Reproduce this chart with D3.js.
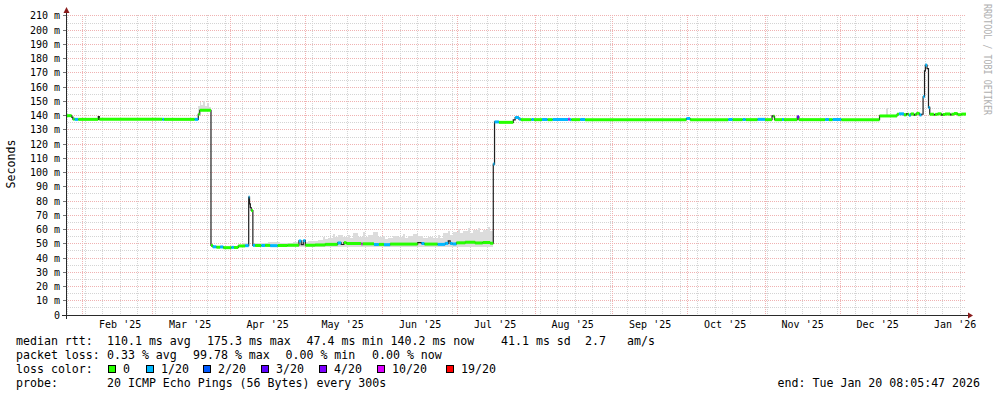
<!DOCTYPE html>
<html>
<head>
<meta charset="utf-8">
<script src="https://cdn.jsdelivr.net/npm/d3@7"></script>
<style>
body { margin: 0; background: #fff; }
svg { display: block; font-family: "DejaVu Sans Mono", monospace; }
</style>
</head>
<body>
<svg width="997" height="397"></svg>
<script>
// loss classes
var lossColors = ["#26ff00", "#00b8ff", "#0059ff", "#5e00ff", "#7e00ff", "#dd00ff", "#ff0000"];
var lossLabels = ["0", "1/20", "2/20", "3/20", "4/20", "10/20", "19/20"];

var monthLabels = ["Feb '25", "Mar '25", "Apr '25", "May '25", "Jun '25", "Jul '25",
                   "Aug '25", "Sep '25", "Oct '25", "Nov '25", "Dec '25", "Jan '26"];

// median rtt (ms) : [time, value, loss class]  (-1 = no loss colour, only the dark line)
var median = [
  ["2025-01-25 08:05", 140.0, 0],
  ["2025-01-27 14:00", 139.0, -1],
  ["2025-01-28 02:00", 137.6, 0],
  ["2025-01-28 20:00", 137.4, 1],
  ["2025-01-30 06:00", 137.4, 0],
  ["2025-02-07 06:00", 139.3, -1],
  ["2025-02-07 16:00", 137.4, 0],
  ["2025-03-04 22:00", 137.4, 1],
  ["2025-03-05 14:00", 137.4, 0],
  ["2025-03-17 20:00", 137.4, 1],
  ["2025-03-19 06:00", 141.0, 0],
  ["2025-03-19 20:00", 143.8, 0],
  ["2025-03-24 08:00", 48.8, 0],
  ["2025-03-25 02:00", 47.9, 1],
  ["2025-03-26 12:00", 47.6, 0],
  ["2025-03-28 00:00", 47.8, 1],
  ["2025-03-29 06:00", 47.3, 0],
  ["2025-04-01 12:00", 47.5, 1],
  ["2025-04-02 12:00", 47.4, 0],
  ["2025-04-04 06:00", 48.5, 0],
  ["2025-04-07 00:00", 48.7, 1],
  ["2025-04-08 10:00", 82.8, 1],
  ["2025-04-08 18:00", 78.0, -1],
  ["2025-04-09 02:00", 75.5, -1],
  ["2025-04-09 10:00", 73.4, 0],
  ["2025-04-10 02:00", 48.9, 1],
  ["2025-04-11 00:00", 48.8, 0],
  ["2025-04-13 12:00", 48.8, 1],
  ["2025-04-15 00:00", 48.9, 0],
  ["2025-04-17 00:00", 48.7, 1],
  ["2025-04-20 00:00", 48.8, 0],
  ["2025-04-24 00:00", 49.0, 0],
  ["2025-04-28 12:00", 52.0, 1],
  ["2025-04-29 10:00", 49.4, -1],
  ["2025-04-30 06:00", 52.2, 1],
  ["2025-05-01 02:00", 49.0, 0],
  ["2025-05-05 00:00", 49.2, 0],
  ["2025-05-09 00:00", 49.6, 0],
  ["2025-05-14 00:00", 50.6, 1],
  ["2025-05-15 10:00", 49.5, -1],
  ["2025-05-16 12:00", 50.8, 0],
  ["2025-05-17 12:00", 50.2, 0],
  ["2025-05-23 12:00", 49.9, 5],
  ["2025-05-24 00:00", 50.0, 0],
  ["2025-05-28 12:00", 49.5, 1],
  ["2025-05-30 12:00", 49.6, 0],
  ["2025-06-01 12:00", 49.4, 1],
  ["2025-06-04 00:00", 49.8, 0],
  ["2025-06-15 00:00", 50.9, -1],
  ["2025-06-16 12:00", 50.2, 1],
  ["2025-06-17 18:00", 49.8, 0],
  ["2025-06-23 00:00", 49.6, 1],
  ["2025-06-26 00:00", 50.3, 1],
  ["2025-06-27 06:00", 52.0, -1],
  ["2025-06-28 00:00", 50.2, 1],
  ["2025-06-29 00:00", 49.9, 1],
  ["2025-06-30 12:00", 50.7, 0],
  ["2025-07-04 00:00", 51.1, 0],
  ["2025-07-08 00:00", 50.6, 0],
  ["2025-07-11 00:00", 50.9, 0],
  ["2025-07-14 00:00", 50.4, 0],
  ["2025-07-15 06:00", 106.0, 1],
  ["2025-07-15 18:00", 135.6, 1],
  ["2025-07-17 12:00", 135.3, 0],
  ["2025-07-23 06:00", 137.0, -1],
  ["2025-07-24 00:00", 138.7, 1],
  ["2025-07-25 12:00", 137.6, 1],
  ["2025-07-26 06:00", 137.2, 0],
  ["2025-07-30 12:00", 137.3, 1],
  ["2025-07-31 12:00", 137.2, 0],
  ["2025-08-03 18:00", 137.3, 1],
  ["2025-08-06 00:00", 137.2, 0],
  ["2025-08-08 00:00", 137.3, 1],
  ["2025-08-14 06:00", 137.5, 5],
  ["2025-08-14 20:00", 137.2, 1],
  ["2025-08-15 12:00", 137.2, 0],
  ["2025-08-19 00:00", 137.3, 1],
  ["2025-08-21 00:00", 137.2, 0],
  ["2025-09-30 12:00", 138.0, 1],
  ["2025-10-02 00:00", 137.2, 0],
  ["2025-10-17 06:00", 137.3, 1],
  ["2025-10-19 00:00", 137.2, 0],
  ["2025-10-23 00:00", 137.3, 1],
  ["2025-10-24 06:00", 137.2, 0],
  ["2025-10-29 00:00", 137.4, 1],
  ["2025-11-01 00:00", 137.2, 0],
  ["2025-11-03 18:00", 139.9, -1],
  ["2025-11-04 06:00", 139.6, 0],
  ["2025-11-04 18:00", 137.2, 0],
  ["2025-11-07 18:00", 137.3, 1],
  ["2025-11-08 12:00", 137.2, 0],
  ["2025-11-13 20:00", 139.2, 3],
  ["2025-11-14 12:00", 137.2, 0],
  ["2025-11-25 00:00", 137.3, 1],
  ["2025-11-26 12:00", 137.2, 0],
  ["2025-11-28 00:00", 137.3, 1],
  ["2025-12-01 12:00", 137.2, 0],
  ["2025-12-16 18:00", 139.8, 0],
  ["2025-12-23 18:00", 141.0, 0],
  ["2025-12-24 12:00", 141.3, 1],
  ["2025-12-26 12:00", 140.6, 0],
  ["2025-12-27 12:00", 141.4, -1],
  ["2025-12-28 00:00", 141.0, 0],
  ["2025-12-28 12:00", 140.3, 1],
  ["2025-12-29 06:00", 141.2, 0],
  ["2025-12-30 12:00", 140.4, -1],
  ["2025-12-31 00:00", 140.8, 0],
  ["2025-12-31 12:00", 141.6, 0],
  ["2026-01-01 18:00", 140.5, 1],
  ["2026-01-02 12:00", 141.0, -1],
  ["2026-01-03 04:00", 153.3, 1],
  ["2026-01-03 18:00", 171.5, -1],
  ["2026-01-04 02:00", 175.5, 1],
  ["2026-01-04 18:00", 173.0, -1],
  ["2026-01-05 08:00", 145.8, 1],
  ["2026-01-05 20:00", 141.0, 0],
  ["2026-01-07 12:00", 140.5, -1],
  ["2026-01-08 00:00", 140.9, 0],
  ["2026-01-09 00:00", 141.3, 0],
  ["2026-01-10 12:00", 140.4, -1],
  ["2026-01-11 00:00", 140.8, 0],
  ["2026-01-12 00:00", 141.2, 0],
  ["2026-01-14 00:00", 140.6, -1],
  ["2026-01-14 12:00", 141.0, 0],
  ["2026-01-15 12:00", 141.5, 0],
  ["2026-01-17 00:00", 140.7, 0],
  ["2026-01-18 12:00", 141.1, 0],
  ["2026-01-20 08:05", 141.1, 0]
];

// smoke (spread of the pings): [time, low, high], null ends a run
var smoke = [
  ["2025-03-19 06:00", 141.0, 146.5],
  ["2025-03-19 18:00", 143.5, 149.8],
  ["2025-03-20 12:00", 143.5, 147.2],
  ["2025-03-21 06:00", 143.5, 150.0],
  ["2025-03-22 00:00", 143.5, 146.8],
  ["2025-03-22 18:00", 143.5, 148.6],
  ["2025-03-23 12:00", 143.5, 146.0],
  ["2025-03-24 08:00", null, null],
  ["2025-04-06 00:00", 48.0, 50.6],
  ["2025-04-08 06:00", null, null],
  ["2025-04-11 00:00", 48.0, 50.3],
  ["2025-04-16 00:00", 48.0, 51.2],
  ["2025-04-21 00:00", 48.0, 50.6],
  ["2025-04-26 00:00", 48.0, 51.5],
  ["2025-05-02 00:00", 48.0, 52.0],
  ["2025-05-06 00:00", 48.0, 52.5],
  ["2025-05-08 00:00", 48.0, 55.0],
  ["2025-05-09 00:00", 48.0, 53.2],
  ["2025-05-10 00:00", 48.0, 54.0],
  ["2025-05-12 00:00", 48.0, 57.2],
  ["2025-05-13 00:00", 48.0, 54.8],
  ["2025-05-14 00:00", 48.0, 56.0],
  ["2025-05-16 00:00", 48.0, 54.5],
  ["2025-05-18 00:00", 48.0, 56.5],
  ["2025-05-19 00:00", 48.0, 53.8],
  ["2025-05-20 00:00", 48.0, 57.6],
  ["2025-05-22 00:00", 48.0, 55.0],
  ["2025-05-24 00:00", 48.0, 58.4],
  ["2025-05-25 00:00", 48.0, 54.9],
  ["2025-05-26 00:00", 48.0, 56.0],
  ["2025-05-28 00:00", 48.0, 58.3],
  ["2025-05-30 00:00", 48.0, 54.6],
  ["2025-06-01 00:00", 48.0, 55.4],
  ["2025-06-02 00:00", 48.0, 53.6],
  ["2025-06-03 00:00", 48.0, 54.2],
  ["2025-06-05 00:00", 48.0, 55.8],
  ["2025-06-07 00:00", 48.0, 54.5],
  ["2025-06-09 00:00", 48.0, 56.8],
  ["2025-06-10 00:00", 48.0, 54.1],
  ["2025-06-11 00:00", 48.0, 55.6],
  ["2025-06-13 00:00", 48.0, 57.0],
  ["2025-06-15 00:00", 48.0, 55.2],
  ["2025-06-17 00:00", 48.0, 53.9],
  ["2025-06-19 00:00", 48.0, 55.0],
  ["2025-06-21 00:00", 48.0, 54.3],
  ["2025-06-23 00:00", 48.0, 56.2],
  ["2025-06-24 00:00", 48.0, 54.4],
  ["2025-06-25 00:00", 48.0, 57.5],
  ["2025-06-27 00:00", 48.0, 59.0],
  ["2025-06-28 00:00", 48.0, 56.1],
  ["2025-06-29 00:00", 48.0, 58.2],
  ["2025-07-01 00:00", 48.0, 60.3],
  ["2025-07-02 00:00", 48.0, 57.4],
  ["2025-07-03 00:00", 48.0, 58.8],
  ["2025-07-05 00:00", 48.0, 60.8],
  ["2025-07-06 00:00", 48.0, 57.9],
  ["2025-07-07 00:00", 48.0, 59.4],
  ["2025-07-09 00:00", 48.0, 61.0],
  ["2025-07-10 00:00", 48.0, 58.3],
  ["2025-07-11 00:00", 48.0, 59.6],
  ["2025-07-13 00:00", 48.0, 61.8],
  ["2025-07-14 00:00", 48.0, 59.2],
  ["2025-07-15 06:00", null, null],
  ["2025-12-19 08:00", 139.8, 145.6],
  ["2025-12-20 04:00", null, null]
];

var legendRtt = [["110.1 ms avg", 107], ["175.3 ms max", 207], ["47.4 ms min", 306.5],
                 ["140.2 ms now", 390.5], ["41.1 ms sd", 501], ["2.7", 585], ["am/s", 627]];
var legendLoss = [["0.33 % avg", 107], ["99.78 % max", 193], ["0.00 % min", 285.5], ["0.00 % now", 372]];
var legendSwatchX = [108, 146, 203, 261, 319, 377, 446];

var parse = d3.timeParse("%Y-%m-%d %H:%M");
var tStart = parse("2025-01-25 08:05"),
    tEnd = parse("2026-01-20 08:05");

var svg = d3.select("svg"),
    x0 = 66, x1 = 966, yBase = 315, yTop = 15;

var x = d3.scaleTime().domain([tStart, tEnd]).range([x0, x1]);
var y = d3.scaleLinear().domain([0, 210.7]).range([yBase, yTop]);

var px = function(v) { return Math.floor(v) + 0.5; };

var gridG = svg.append("g").attr("shape-rendering", "crispEdges");
var minorCol = "#d4d4d4", majorCol = "#f0b2b2";

// minor grid
d3.range(5, 211, 10).forEach(function(v) {
    gridG.append("line").attr("x1", x0).attr("x2", x1)
        .attr("y1", px(y(v))).attr("y2", px(y(v)))
        .attr("stroke", minorCol).attr("stroke-dasharray", "1,1");
});
d3.timeSunday.range(tStart, tEnd).forEach(function(d) {
    gridG.append("line").attr("x1", px(x(d))).attr("x2", px(x(d)))
        .attr("y1", yTop).attr("y2", yBase)
        .attr("stroke", minorCol).attr("stroke-dasharray", "1,1");
});
// major grid
d3.range(10, 211, 10).forEach(function(v) {
    gridG.append("line").attr("x1", x0).attr("x2", x1)
        .attr("y1", px(y(v))).attr("y2", px(y(v)))
        .attr("stroke", majorCol).attr("stroke-dasharray", "1,1");
    gridG.append("line").attr("x1", x0 - 3).attr("x2", x0)
        .attr("y1", px(y(v))).attr("y2", px(y(v)))
        .attr("stroke", "#777");
});
var months = d3.timeMonth.range(tStart, tEnd);
months.forEach(function(d) {
    gridG.append("line").attr("x1", px(x(d))).attr("x2", px(x(d)))
        .attr("y1", yTop).attr("y2", yBase)
        .attr("stroke", majorCol).attr("stroke-dasharray", "1,1");
});

// smoke
var smokeG = svg.append("g").attr("shape-rendering", "crispEdges");
for (var i = 0; i < smoke.length - 1; i++) {
    if (smoke[i][2] == null) continue;
    var xa = Math.round(x(parse(smoke[i][0]))), xb = Math.round(x(parse(smoke[i + 1][0])));
    smokeG.append("rect")
        .attr("x", xa).attr("width", Math.max(1, xb - xa))
        .attr("y", y(smoke[i][2])).attr("height", y(smoke[i][1]) - y(smoke[i][2]))
        .attr("fill", "#dcdcdc");
}

// median
var med = median.map(function(d) { return {t: parse(d[0]), v: d[1], loss: d[2]}; });

var medLine = d3.line()
    .x(function(d) { return x(d.t); })
    .y(function(d) { return y(d.v); })
    .curve(d3.curveStepAfter);

svg.append("path")
    .attr("d", medLine(med))
    .attr("fill", "none")
    .attr("stroke", "#202020")
    .attr("stroke-width", 1.2);

var segLine = d3.line()
    .x(function(d) { return x(d[0]); })
    .y(function(d) { return y(d[1]); });

// loss coloured pieces, horizontal only; the dark line carries the jumps
for (var i = 0; i < med.length - 1; i++) {
    var a = med[i], b = med[i + 1];
    if (a.loss < 0) continue;
    svg.append("path")
        .attr("d", segLine([[a.t, a.v], [b.t, a.v]]))
        .attr("fill", "none")
        .attr("stroke", lossColors[a.loss])
        .attr("stroke-width", 3);
}

// axes
var axisG = svg.append("g").attr("shape-rendering", "crispEdges");
axisG.append("line").attr("x1", x0 - 4).attr("x2", x1 + 4)
    .attr("y1", yBase + 0.5).attr("y2", yBase + 0.5).attr("stroke", "#2a2a2a");
axisG.append("line").attr("x1", x0 + 0.5).attr("x2", x0 + 0.5)
    .attr("y1", yBase + 4).attr("y2", yTop - 4).attr("stroke", "#2a2a2a");
svg.append("path")
    .attr("d", "M" + (x1 + 2) + "," + (yBase - 2.5) + "L" + (x1 + 2) + "," + (yBase + 3.5) + "L" + (x1 + 7) + "," + (yBase + 0.5) + "Z")
    .attr("fill", "#8a1c1c");
svg.append("path")
    .attr("d", "M" + (x0 - 2.5) + "," + (yTop - 2) + "L" + (x0 + 3.5) + "," + (yTop - 2) + "L" + (x0 + 0.5) + "," + (yTop - 8) + "Z")
    .attr("fill", "#8a1c1c");

// y labels
d3.range(0, 211, 10).forEach(function(v) {
    svg.append("text")
        .attr("x", 60).attr("y", y(v)).attr("dy", "0.35em")
        .attr("text-anchor", "end")
        .attr("font-size", "10px")
        .text(v === 0 ? "0" : v + " m");
});

// x labels, centred half a month after the month start
months.forEach(function(d, i) {
    svg.append("text")
        .attr("x", x(d3.timeDay.offset(d, 15)))
        .attr("y", 328)
        .attr("text-anchor", "middle")
        .attr("font-size", "10px")
        .text(monthLabels[i]);
});

svg.append("text")
    .attr("transform", "translate(15,164) rotate(-90)")
    .attr("text-anchor", "middle")
    .attr("font-size", "11.6px")
    .text("Seconds");

svg.append("text")
    .attr("transform", "translate(984,4) rotate(90)")
    .attr("font-size", "10px")
    .attr("fill", "#b0b0b0")
    .attr("textLength", 111)
    .attr("lengthAdjust", "spacingAndGlyphs")
    .text("RRDTOOL / TOBI OETIKER");

// legend
var lg = svg.append("g").attr("font-size", "11.6px").attr("fill", "#000");
lg.append("text").attr("x", 16).attr("y", 345).text("median rtt:");
legendRtt.forEach(function(d) {
    lg.append("text").attr("x", d[1]).attr("y", 345).text(d[0]);
});
lg.append("text").attr("x", 16).attr("y", 359).text("packet loss:");
legendLoss.forEach(function(d) {
    lg.append("text").attr("x", d[1]).attr("y", 359).text(d[0]);
});
lg.append("text").attr("x", 16).attr("y", 373).text("loss color:");
lossLabels.forEach(function(l, i) {
    lg.append("rect")
        .attr("x", legendSwatchX[i] + 0.5).attr("y", 365.5)
        .attr("width", 7).attr("height", 7)
        .attr("fill", lossColors[i]).attr("stroke", "#000")
        .attr("shape-rendering", "crispEdges");
    lg.append("text").attr("x", legendSwatchX[i] + 15).attr("y", 373).text(l);
});
lg.append("text").attr("x", 16).attr("y", 387).text("probe:");
lg.append("text").attr("x", 107).attr("y", 387).text("20 ICMP Echo Pings (56 Bytes) every 300s");
lg.append("text").attr("x", 980).attr("y", 387).attr("text-anchor", "end")
    .text("end: Tue Jan 20 08:05:47 2026");
</script>
</body>
</html>
